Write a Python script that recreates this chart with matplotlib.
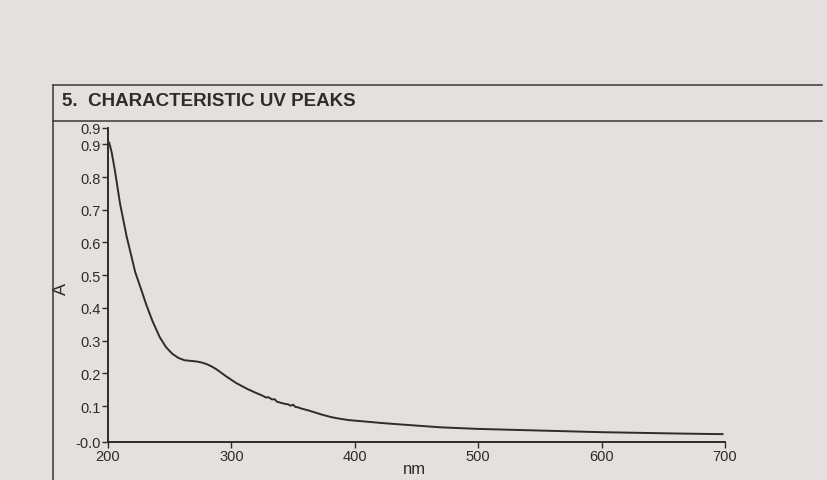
import matplotlib
matplotlib.use("Agg")
import matplotlib.pyplot as plt
from matplotlib.lines import Line2D

plt.rcParams['font.family'] = ['Liberation Sans', 'DejaVu Sans']

# ---- data ----
wavelength = [201, 203, 205.6, 209.7, 215, 222, 227, 231, 236, 242, 247, 252, 257,
              262, 267, 272, 276, 280, 284, 288, 292, 296, 304, 313, 320, 325, 328,
              330, 333, 335, 337, 340, 343, 346, 348, 350, 352, 354, 356, 358, 362,
              368, 374, 381, 388, 395, 410, 422, 436, 469, 500, 550, 600, 631, 660, 698]
absorbance = [0.905, 0.875, 0.82, 0.72, 0.62, 0.51, 0.455, 0.41, 0.36, 0.31, 0.28,
              0.26, 0.247, 0.24, 0.238, 0.236, 0.233, 0.228, 0.221, 0.212, 0.201,
              0.19, 0.17, 0.152, 0.14, 0.132, 0.126, 0.127, 0.12, 0.121, 0.113, 0.11,
              0.107, 0.105, 0.101, 0.104, 0.097, 0.096, 0.093, 0.091, 0.087, 0.08,
              0.073, 0.066, 0.061, 0.057, 0.052, 0.048, 0.044, 0.035, 0.03, 0.025,
              0.02, 0.018, 0.016, 0.014]
x_ticks = [200, 300, 400, 500, 600, 700]
y_ticks = [-0.01, 0.1, 0.2, 0.3, 0.4, 0.5, 0.6, 0.7, 0.8, 0.9, 0.95]
y_tick_labels = ['-0.0', '0.1', '0.2', '0.3', '0.4', '0.5', '0.6', '0.7', '0.8', '0.9', '0.9']
title = "5.  CHARACTERISTIC UV PEAKS"

paper = '#e3e0dd'
ink = '#2e2c2c'

fig = plt.figure(figsize=(8.27, 4.81), dpi=100, facecolor=paper)
W, H = 827, 481

def fx(px):
    return px / W

def fy(py):
    return 1 - py / H

# header box lines
fig.add_artist(Line2D([fx(53), fx(822)], [fy(86), fy(86)], color='#3a3838', lw=1.1))
fig.add_artist(Line2D([fx(53), fx(822)], [fy(122), fy(122)], color='#3a3838', lw=1.1))
fig.add_artist(Line2D([fx(53), fx(53)], [fy(86), fy(481)], color='#3a3838', lw=1.1))
fig.text(fx(62), fy(102), title, fontsize=13.5, fontweight='bold', color=ink,
         ha='left', va='center')

ax = fig.add_axes([fx(108), fy(443), fx(725) - fx(108), fy(129) - fy(443)])
ax.set_facecolor('none')
ax.plot(wavelength, absorbance, color=ink, lw=1.4)
ax.set_xlim(200, 700)
ax.set_ylim(-0.01, 0.95)
ax.set_xticks(x_ticks)
ax.set_yticks(y_ticks)
ax.set_yticklabels(y_tick_labels)
for s in ['top', 'right']:
    ax.spines[s].set_visible(False)
for s in ['left', 'bottom']:
    ax.spines[s].set_color(ink)
    ax.spines[s].set_linewidth(1.4)
ax.tick_params(direction='out', length=4, width=1, colors=ink, labelsize=10.5, pad=1)
ax.set_xlabel('nm', fontsize=12, color=ink, va='center')
ax.xaxis.set_label_coords(0.497, -0.085)
ax.set_ylabel('A', fontsize=13, color=ink, va='center')
ax.yaxis.set_label_coords(-0.075, 0.49)

fig.savefig('out.png', dpi=100, facecolor=paper)
